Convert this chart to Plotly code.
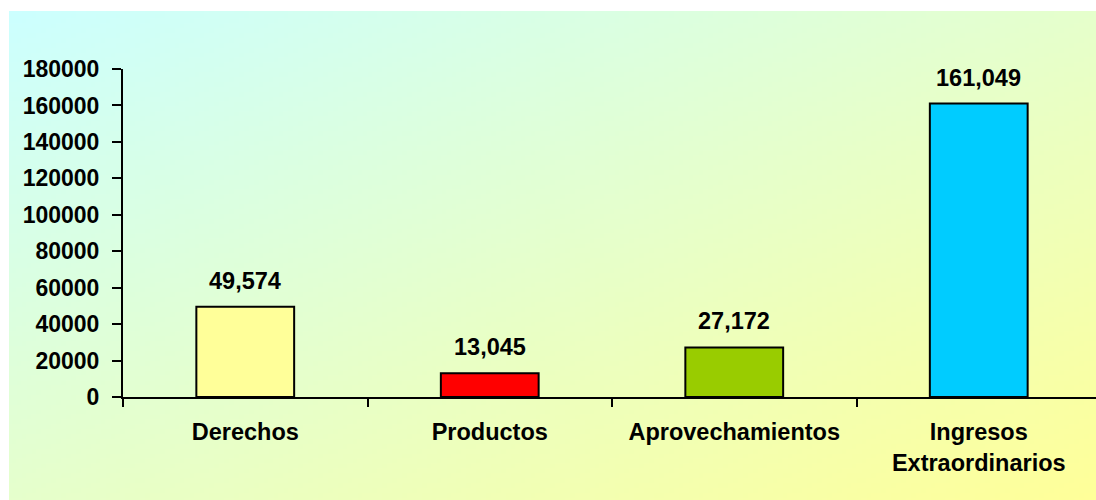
import base64
import struct
import zlib

import plotly.graph_objects as go

# ---- data ----
categories = ["Derechos", "Productos", "Aprovechamientos", "Ingresos<br>Extraordinarios"]
values = [49574, 13045, 27172, 161049]
bar_colors = ["#FFFF99", "#FF0000", "#99CC00", "#00CCFF"]
y_ticks = [0, 20000, 40000, 60000, 80000, 100000, 120000, 140000, 160000, 180000]

# ---- layout geometry (pixels) ----
W, H = 1096, 500
ML, MR, MT, MB = 123, 0, 69, 103
BG_X0, BG_Y0, BG_X1, BG_Y1 = 9, 11, 1096, 500
CAT_PX = 244.5


def gradient_png(w, h, c0, c1):
    rows = b""
    for j in range(h):
        row = b"\x00"
        for i in range(w):
            t = (i / (w - 1) + j / (h - 1)) / 2.0
            px = bytes(int(round(c0[k] + (c1[k] - c0[k]) * t)) for k in range(3))
            row += px
        rows += row

    def chunk(tag, data):
        c = struct.pack(">I", len(data)) + tag + data
        return c + struct.pack(">I", zlib.crc32(tag + data) & 0xFFFFFFFF)

    png = b"\x89PNG\r\n\x1a\n"
    png += chunk(b"IHDR", struct.pack(">IIBBBBB", w, h, 8, 2, 0, 0, 0))
    png += chunk(b"IDAT", zlib.compress(rows, 9))
    png += chunk(b"IEND", b"")
    return "data:image/png;base64," + base64.b64encode(png).decode()


bg_src = gradient_png(220, 100, (204, 255, 255), (255, 255, 153))

pw = W - ML - MR
ph = H - MT - MB

font_family = "Liberation Sans, Arial, sans-serif"
TICK_FONT = 23
CAT_FONT = 23.5
LABEL_FONT = 23.5

fig = go.Figure()
fig.add_trace(
    go.Bar(
        x=categories,
        y=values,
        width=0.4,
        marker=dict(color=bar_colors, line=dict(color="black", width=2)),
        hoverinfo="skip",
    )
)

for c, v in zip(categories, values):
    fig.add_annotation(
        x=c,
        y=v,
        text=f"{v:,}",
        showarrow=False,
        yanchor="middle",
        yshift=26,
        font=dict(family=font_family, size=LABEL_FONT, color="black", weight="bold"),
    )

fig.add_layout_image(
    dict(
        source=bg_src,
        xref="paper",
        yref="paper",
        x=(BG_X0 - ML) / pw,
        y=(H - MB - BG_Y0) / ph,
        sizex=(BG_X1 - BG_X0) / pw,
        sizey=(BG_Y1 - BG_Y0) / ph,
        xanchor="left",
        yanchor="top",
        sizing="stretch",
        layer="below",
    )
)

fig.update_layout(
    width=W,
    height=H,
    margin=dict(l=ML, r=MR, t=MT, b=MB, autoexpand=False),
    paper_bgcolor="white",
    plot_bgcolor="rgba(0,0,0,0)",
    showlegend=False,
    hovermode=False,
    font=dict(family=font_family, size=TICK_FONT, color="black"),
    xaxis=dict(
        type="category",
        range=[-0.5, -0.5 + pw / CAT_PX],
        tickson="boundaries",
        ticks="outside",
        ticklen=8,
        tickwidth=2,
        tickcolor="black",
        ticklabelstandoff=13,
        showline=True,
        linecolor="black",
        linewidth=2,
        showgrid=False,
        tickfont=dict(family=font_family, size=CAT_FONT, color="black", weight="bold"),
    ),
    yaxis=dict(
        range=[0, 180000],
        tickvals=y_ticks,
        tickformat="d",
        ticks="outside",
        ticklen=9,
        tickwidth=2,
        tickcolor="black",
        ticklabelstandoff=8,
        showline=True,
        linecolor="black",
        linewidth=2,
        showgrid=False,
        zeroline=False,
        tickfont=dict(family=font_family, size=TICK_FONT, color="black", weight="bold"),
    ),
)

fig.write_html(
    "out.html",
    config={"displayModeBar": False, "staticPlot": True},
    post_script="document.body.style.margin='0';document.body.style.overflow='hidden';",
)
